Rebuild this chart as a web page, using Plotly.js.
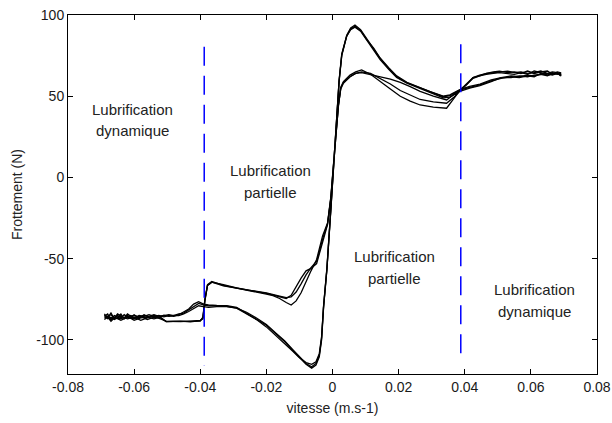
<!DOCTYPE html>
<html>
<head>
<meta charset="utf-8">
<script src="https://cdn.plot.ly/plotly-3.0.1.min.js"></script>
<style>
html,body{margin:0;padding:0;background:#ffffff;}
#chart{width:612px;height:423px;}
</style>
</head>
<body>
<div id="chart"></div>
<script>
// Vitesse croissante (aller) : de -0.069 à +0.069 m/s
const vitesseAller = [-0.0690,-0.0680,-0.0670,-0.0660,-0.0650,-0.0640,-0.0630,-0.0620,-0.0610,-0.0600,
  -0.0585,-0.0570,-0.0555,-0.0540,-0.0525,-0.0510,-0.0495,-0.0480,-0.0465,-0.0450,
  -0.0435,-0.0420,-0.0405,-0.0390,-0.0375,-0.0350,-0.0320,-0.0290,-0.0260,-0.0230,
  -0.0200,-0.0170,-0.0145,-0.0120,-0.0100,-0.0080,-0.0063,-0.0050,-0.0040,-0.0033,
  -0.0027,-0.0017,-0.0005,0.0005,0.0013,0.0020,0.0028,0.0043,0.0055,0.0068,
  0.0085,0.0103,0.0125,0.0144,0.0170,0.0194,0.0225,0.0255,0.0295,0.0335,
  0.0355,0.0385,0.0415,0.0446,0.0480,0.0510,0.0540,0.0565,0.0590,0.0610,
  0.0630,0.0650,0.0665,0.0680,0.0690];

const frottementAller1 = [-84.0,-86.5,-83.5,-87.0,-85.0,-86.5,-84.5,-86.0,-85.0,-86.5,
  -85.0,-85.5,-84.5,-85.5,-85.0,-85.8,-85.0,-85.5,-84.5,-83.0,
  -81.0,-78.0,-76.5,-78.0,-78.5,-78.8,-79.0,-80.0,-83.5,-87.0,
  -91.0,-96.5,-101.0,-106.5,-111.0,-115.0,-117.4,-115.5,-110.5,-100.0,
  -80.0,-57.0,-20.0,10.0,38.0,59.0,75.5,87.5,92.0,93.8,
  91.0,85.6,79.0,73.3,67.0,62.0,58.3,55.9,52.6,49.7,
  50.3,53.8,55.5,57.0,59.5,61.0,62.0,61.5,62.5,62.0,
  64.0,63.0,63.5,64.5,62.5];

const frottementAller2 = [-85.5,-84.0,-87.5,-85.0,-86.0,-84.0,-87.0,-85.0,-86.0,-84.5,
  -86.5,-84.5,-86.0,-85.0,-86.0,-84.8,-85.5,-85.0,-85.0,-84.0,
  -82.5,-80.5,-79.0,-79.5,-80.0,-79.5,-79.5,-80.5,-84.0,-87.5,
  -92.0,-97.5,-102.0,-107.0,-111.0,-114.0,-115.0,-113.5,-108.5,-98.0,
  -79.0,-56.0,-19.0,11.0,39.0,60.0,76.0,87.0,91.0,92.5,
  90.0,84.5,78.5,72.5,66.5,61.5,58.0,55.5,52.0,49.0,
  49.5,53.0,55.0,56.5,59.0,61.5,62.5,62.0,63.0,62.5,
  63.5,64.0,63.0,64.0,63.0];

const frottementAller3 = [-85.0,-85.5,-84.5,-86.5,-84.0,-85.5,-86.5,-84.0,-85.5,-85.0,
  -86.0,-85.0,-85.5,-84.5,-85.5,-85.0,-84.5,-85.0,-84.0,-83.5,
  -81.5,-79.0,-77.5,-78.5,-79.0,-79.0,-79.3,-80.5,-83.0,-86.5,
  -90.5,-96.0,-100.5,-106.0,-110.5,-114.5,-116.5,-114.5,-109.5,-99.0,
  -79.5,-56.5,-19.5,10.5,38.5,59.5,75.0,87.0,91.5,93.0,
  90.5,85.0,79.5,73.5,67.5,62.5,58.5,56.0,52.8,50.0,
  50.8,54.0,56.0,57.5,60.0,61.5,61.5,62.5,62.0,63.0,
  63.5,62.5,64.0,63.5,64.0];

// Vitesse décroissante (retour) : de +0.069 à -0.069 m/s
const vitesseRetour = [0.0690,0.0680,0.0665,0.0650,0.0630,0.0610,0.0590,0.0570,0.0550,0.0530,
  0.0505,0.0486,0.0465,0.0445,0.0425,0.0405,0.0385,0.0365,0.0345,0.0305,
  0.0265,0.0235,0.0205,0.0175,0.0144,0.0115,0.0088,0.0070,0.0053,0.0033,
  0.0025,0.0018,0.0010,0.0003,-0.0005,-0.0015,-0.0030,-0.0040,-0.0048,-0.0065,
  -0.0080,-0.0095,-0.0110,-0.0125,-0.0140,-0.0160,-0.0180,-0.0200,-0.0250,-0.0290,
  -0.0330,-0.0365,-0.0378,-0.0386,-0.0392,-0.0400,-0.0430,-0.0460,-0.0503,-0.0520,
  -0.0540,-0.0560,-0.0580,-0.0600,-0.0620,-0.0640,-0.0660,-0.0670,-0.0680,-0.0690];

const frottementRetour1 = [64.5,65.0,63.5,65.5,65.0,64.0,65.5,64.0,65.0,64.5,
  65.5,65.0,64.0,63.0,61.5,57.5,53.5,48.0,42.6,43.3,
  44.6,47.0,50.0,54.5,59.0,63.5,66.2,65.0,63.0,59.0,
  55.5,45.0,26.0,6.0,-12.0,-28.0,-36.0,-44.0,-50.5,-57.5,
  -64.5,-71.0,-76.0,-78.5,-77.0,-74.5,-72.8,-71.8,-69.8,-68.2,
  -66.5,-64.0,-66.0,-75.0,-86.0,-88.5,-88.7,-88.6,-88.7,-86.5,
  -86.0,-87.5,-85.5,-87.0,-86.0,-88.0,-86.0,-87.5,-85.5,-86.5];

const frottementRetour2 = [63.5,64.5,65.0,64.0,65.5,64.5,64.0,65.0,64.5,65.5,
  65.0,64.5,64.0,62.5,61.0,57.0,53.0,49.0,45.7,46.5,
  48.0,50.5,53.5,57.5,61.0,64.0,65.0,64.0,62.0,58.5,
  55.0,44.0,25.0,5.0,-13.0,-29.0,-40.0,-48.0,-53.0,-56.0,
  -57.5,-62.0,-67.5,-72.5,-74.5,-73.5,-72.3,-71.3,-69.5,-68.0,
  -66.0,-64.5,-66.5,-76.0,-87.0,-88.0,-88.4,-88.8,-88.5,-87.0,
  -85.5,-86.5,-88.0,-86.0,-87.0,-85.5,-87.5,-86.0,-87.0,-85.0];

const frottementRetour3 = [64.0,63.5,64.5,63.0,64.5,65.5,63.5,64.5,63.5,64.0,
  64.5,64.0,63.5,62.5,61.5,57.0,53.8,50.5,47.7,50.0,
  53.0,55.9,58.5,60.5,62.0,63.5,64.5,64.0,62.0,58.0,
  54.5,44.5,25.5,5.5,-12.5,-28.5,-38.0,-46.0,-51.5,-55.5,
  -60.0,-65.5,-70.5,-73.5,-74.0,-73.0,-72.0,-71.0,-69.5,-68.3,
  -66.8,-64.5,-66.5,-75.5,-86.5,-88.2,-88.9,-88.5,-88.8,-86.0,
  -87.0,-86.0,-86.5,-88.0,-85.5,-87.0,-86.5,-88.5,-86.0,-87.5];

// Limites entre régimes de lubrification
const limitesVitesse = [-0.0388, 0.0388];
const limitesHaut = [80.5, 82.0];
const limitesBas = [-116.0, -113.0];

// Graduations
const graduationsX = [-0.08,-0.06,-0.04,-0.02,0,0.02,0.04,0.06,0.08];
const etiquettesX = ['-0.08','-0.06','-0.04','-0.02','0','0.02','0.04','0.06','0.08'];
const graduationsY = [-100,-50,0,50,100];
const etiquettesY = ['-100','-50','0','50','100'];

const cycles = [
  [frottementAller1, frottementRetour1],
  [frottementAller2, frottementRetour2],
  [frottementAller3, frottementRetour3]
];

const traces = cycles.map(c => ({
  type: 'scatter', mode: 'lines',
  x: vitesseAller.concat(vitesseRetour),
  y: c[0].concat(c[1]),
  line: {color: '#000000', width: 1.3},
  hoverinfo: 'skip', showlegend: false
}));

limitesVitesse.forEach((v, i) => {
  traces.push({
    type: 'scatter', mode: 'lines',
    x: [v, v], y: [limitesHaut[i], limitesBas[i]],
    line: {color: '#0000ff', width: 1.5, dash: '19px,10px'},
    hoverinfo: 'skip', showlegend: false
  });
});

const txtFont = {family: 'Liberation Sans, Arial, sans-serif', size: 15, color: '#222222'};
function lab(x, y, t) {
  return {x: x, y: y, xref: 'x', yref: 'y', text: t, showarrow: false,
          xanchor: 'center', yanchor: 'middle', font: txtFont};
}

const layout = {
  width: 612, height: 423,
  margin: {l: 68, r: 15, t: 15, b: 49, pad: 0},
  paper_bgcolor: '#ffffff', plot_bgcolor: '#ffffff',
  font: {family: 'Liberation Sans, Arial, sans-serif', size: 14, color: '#1a1a1a'},
  xaxis: {
    range: [-0.08, 0.08], tickmode: 'array', tickvals: graduationsX, ticktext: etiquettesX,
    ticks: 'inside', ticklen: 5, tickcolor: '#000', tickwidth: 1,
    showline: true, linecolor: '#000', linewidth: 1, mirror: 'ticks',
    showgrid: false, zeroline: false,
    tickfont: {size: 14, color: '#1a1a1a'},
    title: {text: 'vitesse (m.s-1)', font: {size: 14, color: '#222222'}, standoff: 9}
  },
  yaxis: {
    range: [-121, 100], tickmode: 'array', tickvals: graduationsY, ticktext: etiquettesY,
    ticks: 'inside', ticklen: 5, tickcolor: '#000', tickwidth: 1,
    showline: true, linecolor: '#000', linewidth: 1, mirror: 'ticks',
    showgrid: false, zeroline: false,
    tickfont: {size: 14, color: '#1a1a1a'},
    title: {text: 'Frottement (N)', font: {size: 14, color: '#222222'}, standoff: 10}
  },
  annotations: [
    lab(-0.0606, 41.6, 'Lubrification'), lab(-0.0606, 28.7, 'dynamique'),
    lab(-0.0189, 4.4, 'Lubrification'), lab(-0.0189, -9.1, 'partielle'),
    lab(0.0189, -48.8, 'Lubrification'), lab(0.0189, -62.3, 'partielle'),
    lab(0.0611, -69.1, 'Lubrification'), lab(0.0611, -82.6, 'dynamique')
  ]
};

Plotly.newPlot('chart', traces, layout, {staticPlot: true, displayModeBar: false});
</script>
</body>
</html>
